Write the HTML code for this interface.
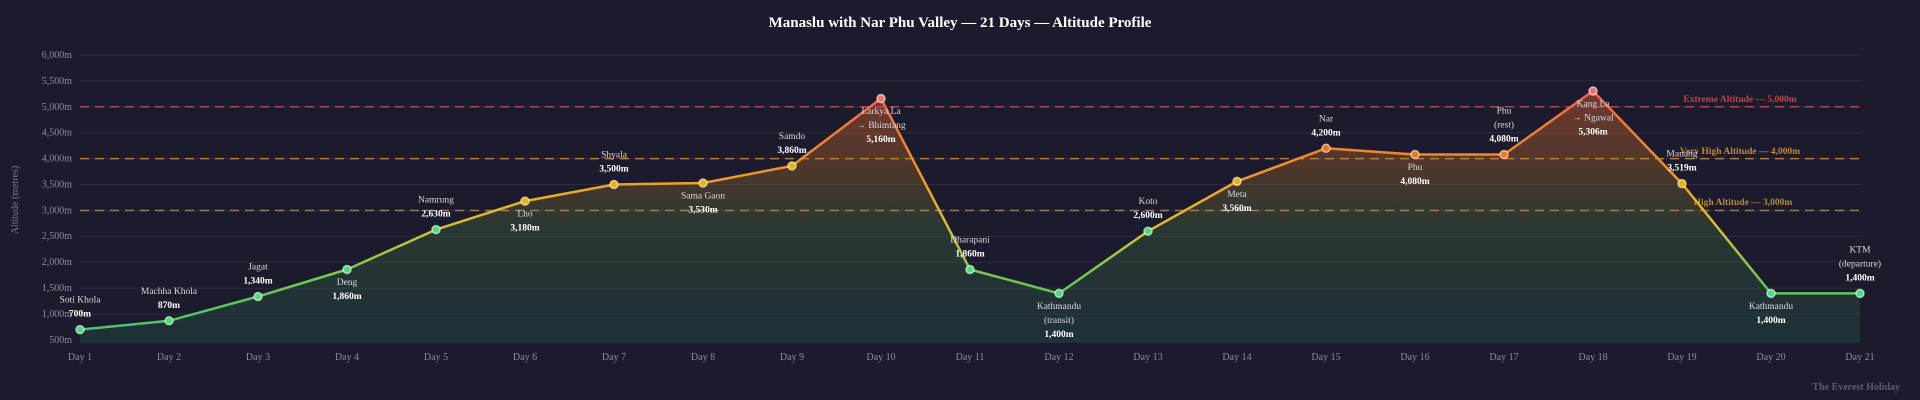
<!DOCTYPE html>
<html><head><meta charset="utf-8"><style>
html,body{margin:0;padding:0;background:#1c1b2d;}
svg{display:block;font-family:"Liberation Serif",serif;}
</style></head><body>
<svg width="1920" height="400" viewBox="0 0 1920 400" xmlns="http://www.w3.org/2000/svg">
<defs>
<linearGradient id="stroke" gradientUnits="userSpaceOnUse" x1="0" y1="91" x2="0" y2="330">
<stop offset="0" stop-color="#f05a5a"/>
<stop offset="0.12" stop-color="#f07a3a"/>
<stop offset="0.3" stop-color="#f08a2a"/>
<stop offset="0.45" stop-color="#eab020"/>
<stop offset="0.6" stop-color="#c9c43a"/>
<stop offset="0.8" stop-color="#6cc850"/>
<stop offset="1" stop-color="#4cc46a"/>
</linearGradient>
<linearGradient id="fill" gradientUnits="userSpaceOnUse" x1="0" y1="91" x2="0" y2="343">
<stop offset="0" stop-color="#c0502c" stop-opacity="0.55"/>
<stop offset="0.3" stop-color="#8a5a28" stop-opacity="0.45"/>
<stop offset="0.55" stop-color="#3a5a38" stop-opacity="0.45"/>
<stop offset="1" stop-color="#1f4a44" stop-opacity="0.45"/>
</linearGradient>
</defs>
<rect width="1920" height="400" fill="#1c1b2d"/>
<text x="960" y="27" fill="#fff" font-size="15" font-weight="bold" text-anchor="middle">Manaslu with Nar Phu Valley — 21 Days — Altitude Profile</text>
<g stroke="#2c2c42" stroke-width="1">
<line x1="80" x2="1860" y1="340" y2="340"/><line x1="80" x2="1860" y1="314.1" y2="314.1"/>
<line x1="80" x2="1860" y1="288.2" y2="288.2"/><line x1="80" x2="1860" y1="262.3" y2="262.3"/>
<line x1="80" x2="1860" y1="236.4" y2="236.4"/><line x1="80" x2="1860" y1="210.5" y2="210.5"/>
<line x1="80" x2="1860" y1="184.5" y2="184.5"/><line x1="80" x2="1860" y1="158.6" y2="158.6"/>
<line x1="80" x2="1860" y1="132.7" y2="132.7"/><line x1="80" x2="1860" y1="106.8" y2="106.8"/>
<line x1="80" x2="1860" y1="80.9" y2="80.9"/><line x1="80" x2="1860" y1="55" y2="55"/>
</g>
<g fill="#8a8aa0" font-size="10" text-anchor="end">
<text x="72" y="343">500m</text><text x="72" y="317">1,000m</text><text x="72" y="291">1,500m</text>
<text x="72" y="265">2,000m</text><text x="72" y="239">2,500m</text><text x="72" y="213.5">3,000m</text>
<text x="72" y="187.5">3,500m</text><text x="72" y="161.5">4,000m</text><text x="72" y="135.5">4,500m</text>
<text x="72" y="110">5,000m</text><text x="72" y="84">5,500m</text><text x="72" y="58">6,000m</text>
</g>
<text transform="translate(18,200) rotate(-90)" fill="#7a7a90" font-size="10" text-anchor="middle">Altitude (metres)</text>
<path d="M80,329.6 L169,320.8 L258,296.5 L347,269.5 L436,229.6 L525,201.1 L614,184.5 L703,183 L792,165.9 L881,98.5 L970,269.5 L1059,293.4 L1148,231.2 L1237,181.4 L1326,148.3 L1415,154.5 L1504,154.5 L1593,91 L1682,183.6 L1771,293.4 L1860,293.4 L1860,343 L80,343 Z" fill="url(#fill)"/>
<g stroke-width="1.5" stroke-dasharray="9,6" fill="none">
<line x1="80" x2="1860" y1="106.8" y2="106.8" stroke="#c84a5a" stroke-opacity="0.85"/>
<line x1="80" x2="1860" y1="158.6" y2="158.6" stroke="#d08a30" stroke-opacity="0.85"/>
<line x1="80" x2="1860" y1="210.5" y2="210.5" stroke="#b09060" stroke-opacity="0.8"/>
</g>
<g font-size="9.5" font-weight="bold" text-anchor="middle">
<text x="1740" y="102" fill="#c8404e">Extreme Altitude — 5,000m</text>
<text x="1740" y="154" fill="#c8862a">Very High Altitude — 4,000m</text>
<text x="1743" y="205" fill="#b08a40">High Altitude — 3,000m</text>
</g>
<path d="M80,329.6 L169,320.8 L258,296.5 L347,269.5 L436,229.6 L525,201.1 L614,184.5 L703,183 L792,165.9 L881,98.5 L970,269.5 L1059,293.4 L1148,231.2 L1237,181.4 L1326,148.3 L1415,154.5 L1504,154.5 L1593,91 L1682,183.6 L1771,293.4 L1860,293.4" fill="none" stroke="url(#stroke)" stroke-width="2.5" stroke-linejoin="round"/>
<g stroke="#fff" stroke-opacity="0.6" stroke-width="1.5">
<circle cx="80" cy="329.6" r="4" fill="#4ade80"/><circle cx="169" cy="320.8" r="4" fill="#4ade80"/>
<circle cx="258" cy="296.5" r="4" fill="#4ade80"/><circle cx="347" cy="269.5" r="4" fill="#4ade80"/>
<circle cx="436" cy="229.6" r="4" fill="#4ade80"/><circle cx="525" cy="201.1" r="4" fill="#eab308"/>
<circle cx="614" cy="184.5" r="4" fill="#eab308"/><circle cx="703" cy="183" r="4" fill="#eab308"/>
<circle cx="792" cy="165.9" r="4" fill="#eab308"/><circle cx="881" cy="98.5" r="4" fill="#f87171"/>
<circle cx="970" cy="269.5" r="4" fill="#4ade80"/><circle cx="1059" cy="293.4" r="4" fill="#4ade80"/>
<circle cx="1148" cy="231.2" r="4" fill="#4ade80"/><circle cx="1237" cy="181.4" r="4" fill="#eab308"/>
<circle cx="1326" cy="148.3" r="4" fill="#f97316"/><circle cx="1415" cy="154.5" r="4" fill="#f97316"/>
<circle cx="1504" cy="154.5" r="4" fill="#f97316"/><circle cx="1593" cy="91" r="4" fill="#f87171"/>
<circle cx="1682" cy="183.6" r="4" fill="#eab308"/><circle cx="1771" cy="293.4" r="4" fill="#4ade80"/>
<circle cx="1860" cy="293.4" r="4" fill="#4ade80"/>
</g>
<g font-size="9.5" text-anchor="middle" fill="#d8d8e0">
<text x="80" y="302.6">Soti Khola</text><text x="80" y="316.6" font-weight="bold" fill="#fff">700m</text>
<text x="169" y="293.8">Machha Khola</text><text x="169" y="307.8" font-weight="bold" fill="#fff">870m</text>
<text x="258" y="269.5">Jagat</text><text x="258" y="283.5" font-weight="bold" fill="#fff">1,340m</text>
<text x="347" y="285">Deng</text><text x="347" y="299" font-weight="bold" fill="#fff">1,860m</text>
<text x="436" y="202.6">Namrung</text><text x="436" y="216.6" font-weight="bold" fill="#fff">2,630m</text>
<text x="525" y="216.6">Lho</text><text x="525" y="230.6" font-weight="bold" fill="#fff">3,180m</text>
<text x="614" y="157.5">Shyala</text><text x="614" y="171.5" font-weight="bold" fill="#fff">3,500m</text>
<text x="703" y="198.5">Sama Gaon</text><text x="703" y="212.5" font-weight="bold" fill="#fff">3,530m</text>
<text x="792" y="138.9">Samdo</text><text x="792" y="152.9" font-weight="bold" fill="#fff">3,860m</text>
<text x="881" y="114">Larkya La</text><text x="881" y="128">→ Bhimtang</text><text x="881" y="142" font-weight="bold" fill="#fff">5,160m</text>
<text x="970" y="242.5">Dharapani</text><text x="970" y="256.5" font-weight="bold" fill="#fff">1,860m</text>
<text x="1059" y="309">Kathmandu</text><text x="1059" y="323">(transit)</text><text x="1059" y="337" font-weight="bold" fill="#fff">1,400m</text>
<text x="1148" y="204.2">Koto</text><text x="1148" y="218.2" font-weight="bold" fill="#fff">2,600m</text>
<text x="1237" y="197">Meta</text><text x="1237" y="211" font-weight="bold" fill="#fff">3,560m</text>
<text x="1326" y="121.3">Nar</text><text x="1326" y="135.3" font-weight="bold" fill="#fff">4,200m</text>
<text x="1415" y="170">Phu</text><text x="1415" y="184" font-weight="bold" fill="#fff">4,080m</text>
<text x="1504" y="113.5">Phu</text><text x="1504" y="127.5">(rest)</text><text x="1504" y="141.5" font-weight="bold" fill="#fff">4,080m</text>
<text x="1593" y="106.5">Kang La</text><text x="1593" y="120.5">→ Ngawal</text><text x="1593" y="134.5" font-weight="bold" fill="#fff">5,306m</text>
<text x="1682" y="156.6">Manang</text><text x="1682" y="170.6" font-weight="bold" fill="#fff">3,519m</text>
<text x="1771" y="309">Kathmandu</text><text x="1771" y="323" font-weight="bold" fill="#fff">1,400m</text>
<text x="1860" y="252.4">KTM</text><text x="1860" y="266.4">(departure)</text><text x="1860" y="280.4" font-weight="bold" fill="#fff">1,400m</text>
</g>
<g fill="#8a8aa0" font-size="10" text-anchor="middle">
<text x="80" y="360">Day 1</text><text x="169" y="360">Day 2</text><text x="258" y="360">Day 3</text>
<text x="347" y="360">Day 4</text><text x="436" y="360">Day 5</text><text x="525" y="360">Day 6</text>
<text x="614" y="360">Day 7</text><text x="703" y="360">Day 8</text><text x="792" y="360">Day 9</text>
<text x="881" y="360">Day 10</text><text x="970" y="360">Day 11</text><text x="1059" y="360">Day 12</text>
<text x="1148" y="360">Day 13</text><text x="1237" y="360">Day 14</text><text x="1326" y="360">Day 15</text>
<text x="1415" y="360">Day 16</text><text x="1504" y="360">Day 17</text><text x="1593" y="360">Day 18</text>
<text x="1682" y="360">Day 19</text><text x="1771" y="360">Day 20</text><text x="1860" y="360">Day 21</text>
</g>
<text x="1900" y="390" fill="#5a5a72" font-size="10" font-weight="bold" text-anchor="end">The Everest Holiday</text>
</svg>
</body></html>
